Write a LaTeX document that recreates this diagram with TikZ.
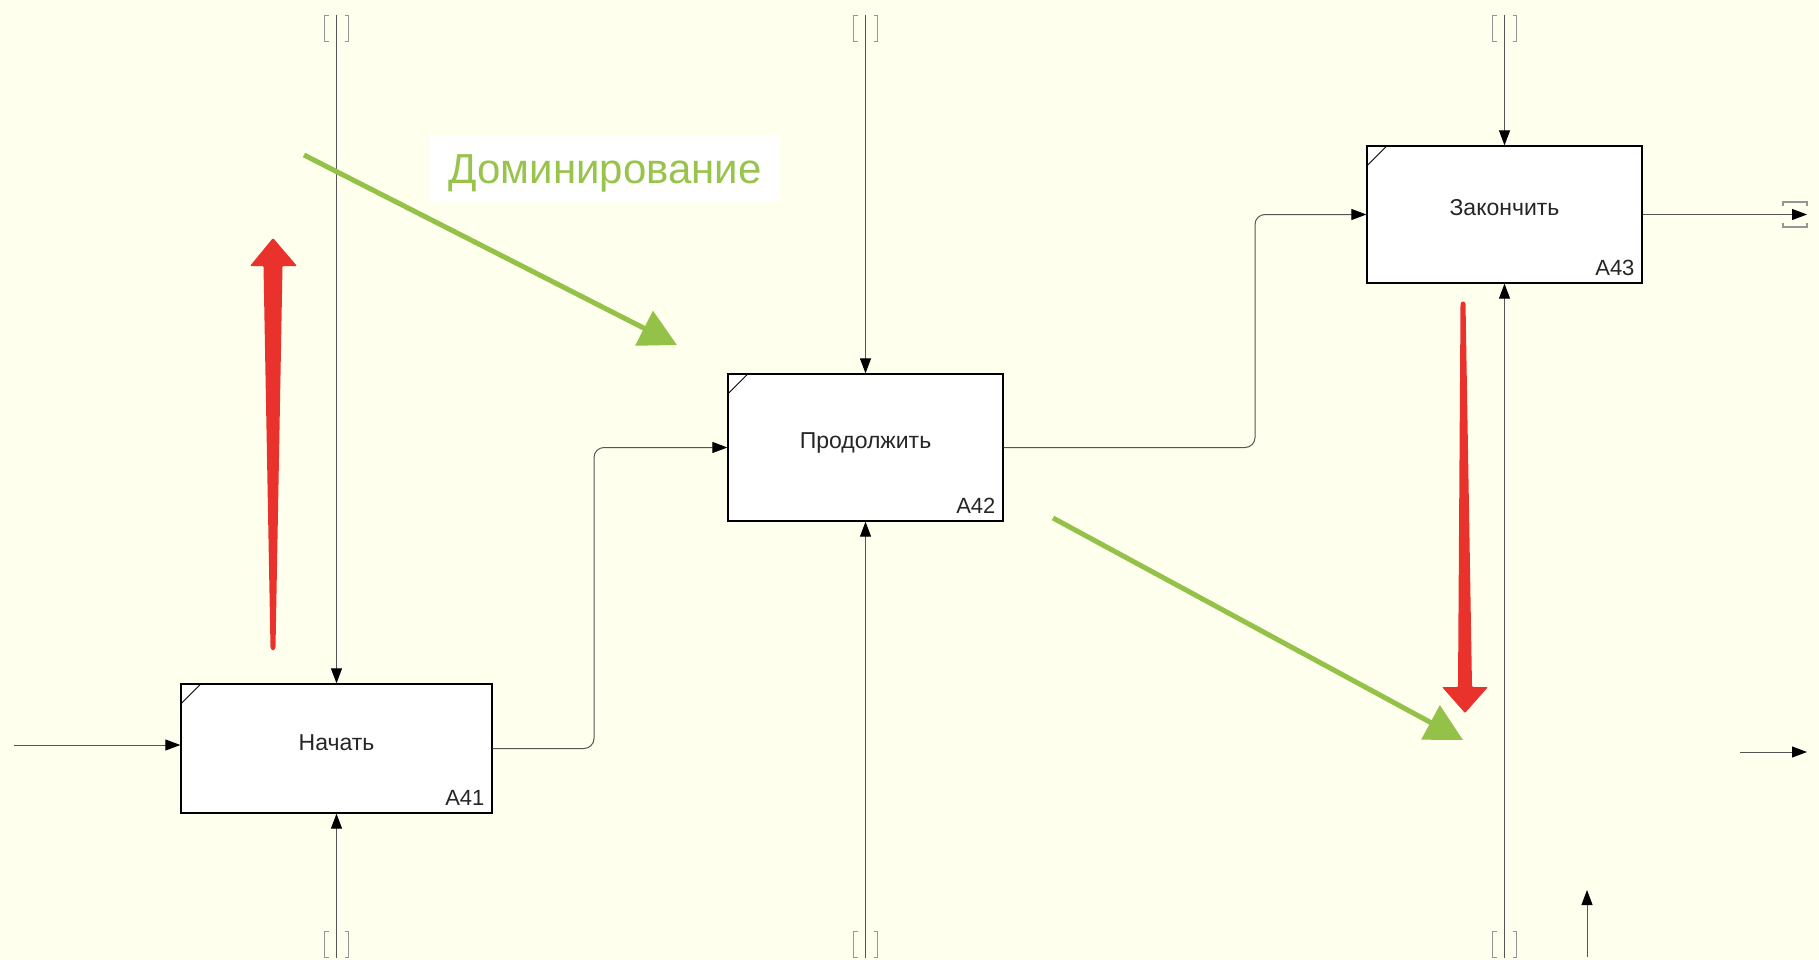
\documentclass[tikz,border=0pt]{standalone}
\usepackage{fontspec}
\setmainfont{Liberation Sans}
\usetikzlibrary{arrows.meta}
\definecolor{bgcol}{RGB}{255,255,237}
\definecolor{conncol}{RGB}{85,85,85}
\definecolor{brackcol}{RGB}{150,150,150}
\definecolor{redarr}{RGB}{234,50,44}
\definecolor{greenarr}{RGB}{148,193,72}
\definecolor{greentext}{RGB}{152,196,76}
\tikzset{
  fbox/.style={draw=black, line width=1.3pt, fill=white, inner sep=0pt},
  boxtext/.style={font=\fontsize{23}{27}\selectfont, text=black!85, inner sep=0pt, anchor=base},
  idtext/.style={font=\fontsize{22}{26}\selectfont, text=black!85, inner sep=0pt, anchor=base east},
  conn/.style={draw=conncol, line width=1pt},
  connarr/.style={conn, -{Triangle[length=15pt,width=11pt,color=black]}},
  brack/.style={draw=brackcol, line width=1.1pt},
  greenarrow/.style={draw=greenarr, line width=5pt, -{Triangle[length=37pt,width=38pt]}},
  redfill/.style={fill=redarr, rounded corners=1pt},
  tunnelv/.pic={
    \draw[brack] (-8,-13) -- (-12,-13) -- (-12,13) -- (-8,13);
    \draw[brack] (8,-13) -- (12,-13) -- (12,13) -- (8,13);
  }
}
\begin{document}
\begin{tikzpicture}[x=1pt,y=-1pt]
\useasboundingbox (0,0) rectangle (1819,960);
\fill[bgcol] (0,0) rectangle (1819,960);

% boxes
\node[fbox, minimum width=311pt, minimum height=129pt] (A41) at (336.5,748.5) {};
\node[fbox, minimum width=275pt, minimum height=147pt] (A42) at (865.5,447.5) {};
\node[fbox, minimum width=275pt, minimum height=137pt] (A43) at (1504.5,214.5) {};

\foreach \b in {A41,A42,A43}{
  \draw[line width=1pt] ([yshift=-21pt]\b.north west) -- ([xshift=21pt]\b.north west);
}

\node[boxtext] (t41) at ([yshift=-1.5pt]A41.center) {Начать};
\node[boxtext] (t42) at ([yshift=-0.5pt]A42.center) {Продолжить};
\node[boxtext] (t43) at ([yshift=-0.5pt]A43.center) {Закончить};
\node[idtext] (id41) at ([xshift=-8pt,yshift=8pt]A41.south east) {A41};
\node[idtext] (id42) at ([xshift=-8pt,yshift=8pt]A42.south east) {A42};
\node[idtext] (id43) at ([xshift=-8pt,yshift=8pt]A43.south east) {A43};

% free ends
\coordinate (in41) at (14,745);
\coordinate (j1) at (594,600);
\coordinate (j2) at (1255,300);
\coordinate (out43) at (1807,214.5);
\coordinate (c41) at (336.5,15);
\coordinate (c42) at (865.5,15);
\coordinate (c43) at (1504.5,15);
\coordinate (m41) at (336.5,958);
\coordinate (m42) at (865.5,958);
\coordinate (m43) at (1504.5,958);
\coordinate (o2a) at (1740,752);
\coordinate (o2b) at (1807,752);
\coordinate (u2a) at (1587,957);
\coordinate (u2b) at (1587,890);

% connectors
\draw[connarr] (in41) -- (A41.west |- in41);
\draw[connarr, rounded corners=10pt] (A41.east) -- (A41.east -| j1) -- (A42.west -| j1) -- (A42.west);
\draw[connarr, rounded corners=10pt] (A42.east) -- (A42.east -| j2) -- (A43.west -| j2) -- (A43.west);
\draw[connarr] (A43.east) -- (out43);
\draw[connarr] (c41) -- (A41.north);
\draw[connarr] (c42) -- (A42.north);
\draw[connarr] (c43) -- (A43.north);
\draw[connarr] (m41) -- (A41.south);
\draw[connarr] (m42) -- (A42.south);
\draw[connarr] (m43) -- (A43.south);
\draw[connarr] (o2a) -- (o2b);
\draw[connarr] (u2a) -- (u2b);

% tunnel brackets
\foreach \x in {336.5,865.5,1504.5}{
  \pic at (\x,28.5) {tunnelv};
  \pic at (\x,944.5) {tunnelv};
}
\draw[brack] (1783,206) -- (1783,202) -- (1807,202) -- (1807,206);
\draw[brack] (1783,223) -- (1783,227) -- (1807,227) -- (1807,223);

% label
\node[fill=white, inner sep=0pt, minimum width=350pt, minimum height=65pt,
      text height=30pt, text depth=0pt,
      font=\fontsize{42}{48}\selectfont, text=greentext] (dom) at (605,168) {Доминирование};

% green arrows
\coordinate (g1s) at (304,155);
\coordinate (g1e) at (677,345);
\coordinate (g2s) at (1053,518);
\coordinate (g2e) at (1463,740);
\draw[greenarrow] (g1s) -- (g1e);
\draw[greenarrow] (g2s) -- (g2e);

% red arrows
\fill[redfill] (273,238) -- (297,266) -- (282.5,266) -- (275.5,648) -- (273,651) -- (270.5,648) -- (263.5,266) -- (250,266) -- cycle;
\fill[redfill] (1465,713) -- (1488,687) -- (1472,687) -- (1465.5,303) -- (1463,301) -- (1460.5,303) -- (1458,687) -- (1442,687) -- cycle;
\end{tikzpicture}
\end{document}
